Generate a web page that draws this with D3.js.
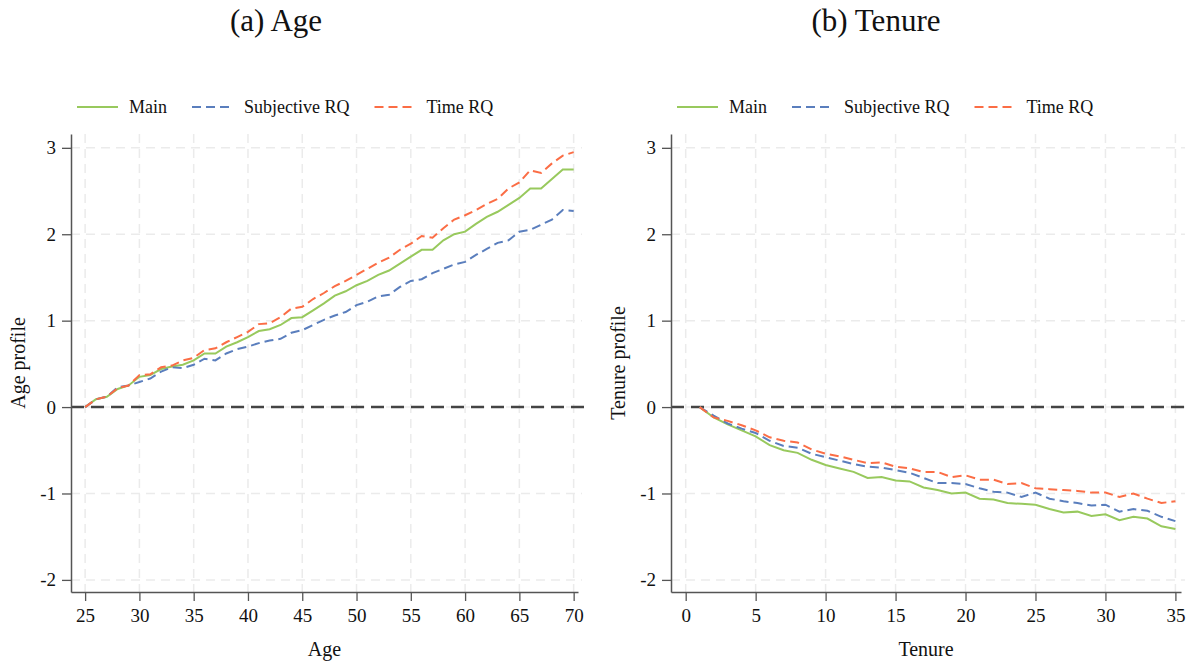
<!DOCTYPE html>
<html>
<head>
<meta charset="utf-8">
<script src="https://cdn.jsdelivr.net/npm/d3@7"></script>
<style>
  body { margin: 0; background: #fff; }
  text { font-family: "Liberation Serif", "Times New Roman", serif; fill: #111; }
</style>
</head>
<body>
<div id="chart"></div>
<script>
//// data
var ages = [25,26,27,28,29,30,31,32,33,34,35,36,37,38,39,40,41,42,43,44,45,46,47,
            48,49,50,51,52,53,54,55,56,57,58,59,60,61,62,63,64,65,66,67,68,69,70];
var ageMain = [0,0.09,0.12,0.21,0.25, 0.35,0.37,0.44,0.47,0.49, 0.54,0.62,0.62,0.70,0.75,
               0.81,0.88,0.90,0.95,1.03, 1.04,1.12,1.20,1.29,1.34, 1.41,1.46,1.53,1.58,1.66,
               1.74,1.82,1.82,1.93,2.00, 2.03,2.12,2.20,2.26,2.34, 2.42,2.53,2.53,2.64,2.75, 2.75];
var ageSubj = [0,0.09,0.12,0.23,0.25, 0.29,0.33,0.41,0.46,0.45, 0.49,0.56,0.54,0.62,0.67,
               0.70,0.74,0.77,0.79,0.86, 0.89,0.95,1.01,1.06,1.10, 1.18,1.22,1.28,1.30,1.39,
               1.46,1.48,1.55,1.60,1.65, 1.68,1.76,1.83,1.90,1.93, 2.03,2.05,2.11,2.17,2.28, 2.27];
var ageTime = [0,0.09,0.12,0.22,0.25, 0.37,0.38,0.46,0.48,0.54, 0.57,0.66,0.68,0.75,0.81,
               0.87,0.96,0.97,1.04,1.14, 1.16,1.25,1.32,1.40,1.46, 1.53,1.60,1.67,1.73,1.82,
               1.89,1.98,1.96,2.07,2.17, 2.22,2.28,2.35,2.41,2.53, 2.60,2.74,2.71,2.82,2.91, 2.95];

var tenure = [1,2,3,4,5,6,7,8,9,10,11,12,13,14,15,16,17,18,19,20,21,22,23,24,25,
              26,27,28,29,30,31,32,33,34,35];
var tenMain = [0,-0.12,-0.20,-0.27,-0.34, -0.44,-0.50,-0.53,-0.61,-0.67, -0.71,-0.75,-0.82,-0.81,-0.85,
               -0.86,-0.93,-0.96,-1.00,-0.99, -1.06,-1.07,-1.11,-1.12,-1.13, -1.18,-1.22,-1.21,-1.26,-1.24,
               -1.31,-1.27,-1.29,-1.38,-1.41];
var tenSubj = [0,-0.10,-0.19,-0.25,-0.30, -0.39,-0.45,-0.47,-0.54,-0.58, -0.62,-0.66,-0.69,-0.70,-0.73,
               -0.76,-0.82,-0.88,-0.88,-0.89, -0.94,-0.98,-0.99,-1.04,-0.99, -1.06,-1.09,-1.11,-1.14,-1.13,
               -1.21,-1.18,-1.20,-1.27,-1.32];
var tenTime = [0,-0.12,-0.16,-0.21,-0.27, -0.35,-0.39,-0.41,-0.49,-0.54, -0.57,-0.61,-0.65,-0.64,-0.69,
               -0.71,-0.75,-0.75,-0.81,-0.79, -0.84,-0.84,-0.89,-0.88,-0.94, -0.95,-0.96,-0.97,-0.99,-0.99,
               -1.04,-1.00,-1.06,-1.11,-1.09];

var seriesNames = ["Main", "Subjective RQ", "Time RQ"];
var yTicks = [-2, -1, 0, 1, 2, 3];
var ageTicks = [25, 30, 35, 40, 45, 50, 55, 60, 65, 70];
var tenTicks = [0, 5, 10, 15, 20, 25, 30, 35];

var colors = ["#98c95d", "#5a7ebd", "#fb6d45"];
var dashes = [null, "9,5", "9,5"];

var width = 1195, height = 663;
var plotTop = 134, plotBottom = 592;

var svg = d3.select("#chart")
  .append("svg")
    .attr("width", width)
    .attr("height", height);

//// one panel
function panel(opt) {
    var x = d3.scaleLinear()
      .domain(opt.xDomain)
      .range([opt.left, opt.right]);

    var y = d3.scaleLinear()
      .domain([-2.14, 3.16])
      .range([plotBottom, plotTop]);

    var g = svg.append("g");

    //// grid
    g.selectAll(".vgrid")
      .data(opt.xTicks)
      .enter().append("line")
        .attr("x1", d => x(d)).attr("x2", d => x(d))
        .attr("y1", plotTop).attr("y2", plotBottom)
        .attr("stroke", "#ebebeb")
        .attr("stroke-width", 1.5)
        .attr("stroke-dasharray", "9,6");

    g.selectAll(".hgrid")
      .data(yTicks)
      .enter().append("line")
        .attr("x1", opt.left).attr("x2", opt.right + 4)
        .attr("y1", d => y(d)).attr("y2", d => y(d))
        .attr("stroke", "#ebebeb")
        .attr("stroke-width", 1.5)
        .attr("stroke-dasharray", "9,6");

    //// zero line
    g.append("line")
      .attr("x1", opt.left).attr("x2", opt.right + 6)
      .attr("y1", y(0)).attr("y2", y(0))
      .attr("stroke", "#444")
      .attr("stroke-width", 2.5)
      .attr("stroke-dasharray", "13,7");

    //// axes (plain hyphen for negatives, like the original)
    var yAxis = g.append("g")
      .attr("transform", "translate(" + opt.left + ",0)")
      .call(d3.axisLeft(y).tickValues(yTicks).tickFormat(d => String(d))
        .tickSize(9).tickPadding(6).tickSizeOuter(0));

    var xAxis = g.append("g")
      .attr("transform", "translate(0," + plotBottom + ")")
      .call(d3.axisBottom(x).tickValues(opt.xTicks).tickFormat(d => String(d))
        .tickSize(9).tickPadding(8).tickSizeOuter(0));

    [yAxis, xAxis].forEach(function(a) {
        a.select(".domain").attr("stroke", "#555").attr("stroke-width", 1.5);
        a.selectAll(".tick line").attr("stroke", "#555").attr("stroke-width", 1.3);
        a.selectAll(".tick text")
          .attr("font-family", "Liberation Serif")
          .attr("font-size", 19)
          .attr("fill", "#111");
    });

    //// lines
    var line = d3.line()
      .x(d => x(d[0]))
      .y(d => y(d[1]));

    opt.series.forEach(function(vals, i) {
        g.append("path")
          .datum(opt.xs.map((v, j) => [v, vals[j]]))
          .attr("fill", "none")
          .attr("stroke", colors[i])
          .attr("stroke-width", 2)
          .attr("stroke-dasharray", dashes[i])
          .attr("d", line);
    });

    //// titles
    g.append("text")
      .attr("x", opt.titleX)
      .attr("y", 31)
      .attr("text-anchor", "middle")
      .attr("font-size", 31)
      .text(opt.title);

    g.append("text")
      .attr("x", (opt.left + opt.right) / 2)
      .attr("y", 656)
      .attr("text-anchor", "middle")
      .attr("font-size", 20)
      .text(opt.xLabel);

    g.append("text")
      .attr("transform", "translate(" + (opt.left - 46) + "," + ((plotTop + plotBottom) / 2) + ") rotate(-90)")
      .attr("text-anchor", "middle")
      .attr("font-size", 20)
      .text(opt.yLabel);

    //// legend
    var lx = opt.left + 6;
    seriesNames.forEach(function(name, i) {
        g.append("line")
          .attr("x1", lx).attr("x2", lx + 41)
          .attr("y1", 107).attr("y2", 107)
          .attr("stroke", colors[i])
          .attr("stroke-width", 2)
          .attr("stroke-dasharray", dashes[i]);
        var t = g.append("text")
          .attr("x", lx + 52)
          .attr("y", 113)
          .attr("font-size", 18)
          .text(name);
        lx = lx + 52 + t.node().getComputedTextLength() + 25;
    });
}

panel({
    left: 71, right: 578,
    xDomain: [23.7, 70.4],
    xTicks: ageTicks,
    xs: ages,
    series: [ageMain, ageSubj, ageTime],
    title: "(a) Age",
    titleX: 276,
    xLabel: "Age",
    yLabel: "Age profile"
});

panel({
    left: 671, right: 1181,
    xDomain: [-1.05, 35.4],
    xTicks: tenTicks,
    xs: tenure,
    series: [tenMain, tenSubj, tenTime],
    title: "(b) Tenure",
    titleX: 876,
    xLabel: "Tenure",
    yLabel: "Tenure profile"
});
</script>
</body>
</html>
